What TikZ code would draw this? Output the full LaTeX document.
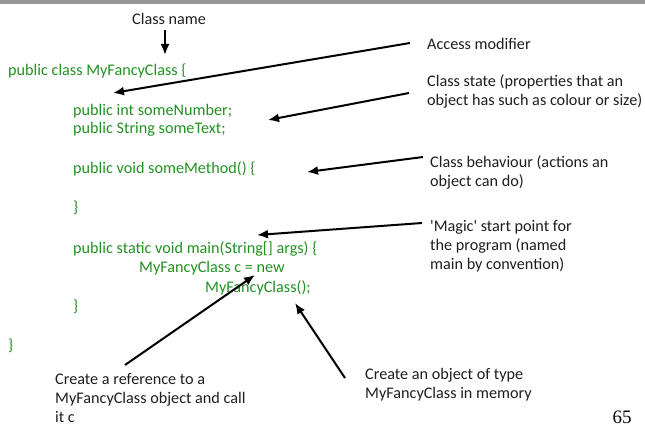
\documentclass[tikz,border=0pt]{standalone}
\usepackage{fontspec}
\setmainfont{Carlito}
\newfontfamily\pagenumfont{Liberation Serif}
\usetikzlibrary{arrows.meta,positioning,calc}
\definecolor{CodeGreen}{RGB}{34,145,34}
\definecolor{NoteGrey}{RGB}{30,30,30}
\definecolor{BarGrey}{RGB}{150,150,150}

\begin{document}
\begin{tikzpicture}[x=1pt, y=-1pt]
  \tikzstyle{code} = [anchor=base west, inner sep=0pt, text=CodeGreen, font=\fontsize{16.2}{19}\selectfont]
  \tikzstyle{note} = [anchor=base west, inner sep=0pt, text=NoteGrey, align=left, font=\fontsize{16.2}{19}\selectfont]
  \tikzstyle{pointer} = [draw=black, line width=2pt, -{Latex[length=11pt, width=9pt]}]

  \useasboundingbox (0,0) rectangle (645,425);
  \fill[BarGrey] (0,0) rectangle (645,4);

  % code lines
  \node [code] (clsHead) at (8,76) {public class MyFancyClass \{};
  \node [code] (fieldNum) at (73,116) {public int someNumber;};
  \node [code] (fieldTxt) at (73,134) {public String someText;};
  \node [code] (methHead) at (73,173) {public void someMethod() \{};
  \node [code] (methEnd) at (73,212) {\}};
  \node [code] (mainHead) at (73,253) {public static void main(String[] args) \{};
  \node [code] (mainDecl) at (139,272) {MyFancyClass c = new};
  \node [code] (mainNew) at (205,292) {MyFancyClass();};
  \node [code] (mainEnd) at (73,311) {\}};
  \node [code] (clsEnd) at (8,350) {\}};

  % notes (base = last line)
  \node [note] (nameNote) at (132,25) {Class name};
  \node [note] (accessNote) at (427,50) {Access modifier};
  \node [note] (stateNote) at (427,106) {Class state (properties that an\\object has such as colour or size)};
  \node [note] (behavNote) at (430,186) {Class behaviour (actions an\\object can do)};
  \node [note] (magicNote) at (430,269) {\textquotesingle Magic\textquotesingle{} start point for\\the program (named\\main by convention)};
  \node [note] (refNote) at (55,422) {Create a reference to a\\MyFancyClass object and call\\it c};
  \node [note] (objNote) at (365,398) {Create an object of type\\MyFancyClass in memory};
  \node [anchor=base, inner sep=0pt, font=\pagenumfont\fontsize{19}{23}\selectfont] (pageNum) at (622,423) {65};

  % arrow ends
  \coordinate (nameFrom) at (165,30);
  \coordinate (nameTo) at (165,55);
  \coordinate (accessFrom) at (410,43);
  \coordinate (accessTo) at (113,93);
  \coordinate (stateFrom) at (409,93);
  \coordinate (stateTo) at (268,120);
  \coordinate (behavFrom) at (423,157);
  \coordinate (behavTo) at (307,172);
  \coordinate (magicFrom) at (422,223);
  \coordinate (magicTo) at (257,235);
  \coordinate (refFrom) at (125,365);
  \coordinate (refTo) at (255,275);
  \coordinate (objFrom) at (345,378);
  \coordinate (objTo) at (295,303);

  \draw [pointer] (nameFrom) -- (nameTo);
  \draw [pointer] (accessFrom) -- (accessTo);
  \draw [pointer] (stateFrom) -- (stateTo);
  \draw [pointer] (behavFrom) -- (behavTo);
  \draw [pointer] (magicFrom) -- (magicTo);
  \draw [pointer] (refFrom) -- (refTo);
  \draw [pointer] (objFrom) -- (objTo);
\end{tikzpicture}
\end{document}
